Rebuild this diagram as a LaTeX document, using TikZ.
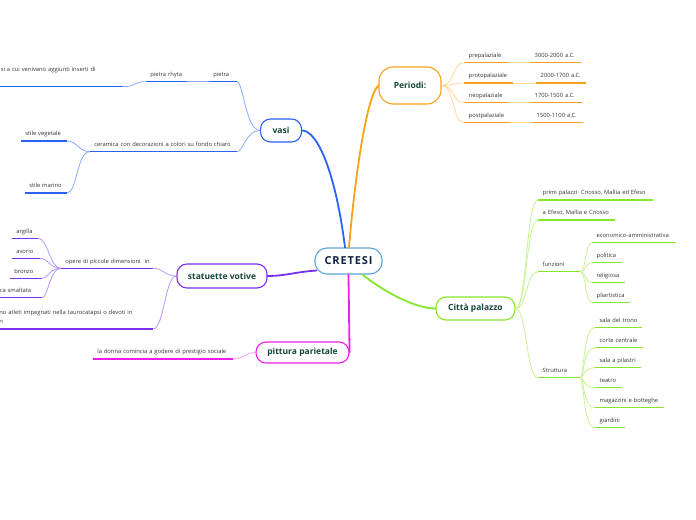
\documentclass[tikz,border=0pt]{standalone}
\usepackage{fontspec}
\setmainfont{Open Sans}
\definecolor{bluemain}{HTML}{2A62F2}
\definecolor{bluelight}{HTML}{8AAAFF}
\definecolor{orangemain}{HTML}{F9A11B}
\definecolor{orangelight}{HTML}{FFD89A}
\definecolor{purplemain}{HTML}{7B2FF2}
\definecolor{purplelight}{HTML}{B898FF}
\definecolor{magentamain}{HTML}{EE1FEE}
\definecolor{magentalight}{HTML}{F49CF4}
\definecolor{greenmain}{HTML}{86E62A}
\definecolor{greenlight}{HTML}{C6F294}
\definecolor{cretesiborder}{HTML}{5BA4DA}
\definecolor{cretesitext}{HTML}{102448}
\definecolor{topictext}{HTML}{16463A}
\definecolor{leaftext}{HTML}{333333}
\begin{document}
\begin{tikzpicture}[line join=bevel,
  topic/.style={draw,fill=white,rounded corners=10bp,line width=1.1bp,inner sep=0pt,text=topictext,font=\fontsize{8.5bp}{10bp}\selectfont\bfseries},
  leaf/.style={inner xsep=4.5bp,inner ysep=3.5bp,text height=4.2bp,text depth=1.4bp,align=left,text=leaftext,font=\fontsize{5.8bp}{9bp}\selectfont},
  main/.style={line width=1.8bp,line cap=round},
  twig/.style={line width=0.8bp},
  ul/.style={line width=1.5bp},
]
%%
\useasboundingbox (0bp,0bp) rectangle (696bp,520bp);
\clip (0bp,0bp) rectangle (696bp,520bp);
\node (node_cretesi) at (348.5bp,259bp) [topic,draw=cretesiborder,text=cretesitext,minimum width=67bp,minimum height=26bp,rounded corners=12bp,font=\fontsize{11bp}{12bp}\selectfont\bfseries\addfontfeature{LetterSpace=8}] {CRETESI};
\node (node_periodi) at (410bp,434.5bp) [topic,draw=orangemain,minimum width=62bp,minimum height=37bp,rounded corners=14bp] {Periodi:};
\node (node_vasi) at (281bp,389.5bp) [topic,draw=bluemain,minimum width=41bp,minimum height=23bp] {vasi};
\node (node_statuette) at (222bp,244bp) [topic,draw=purplemain,minimum width=90bp,minimum height=24bp] {statuette votive};
\node (node_pittura) at (302.5bp,167.5bp) [topic,draw=magentamain,minimum width=93bp,minimum height=21bp] {pittura parietale};
\node (node_citta) at (475.5bp,211.5bp) [topic,draw=greenmain,minimum width=79bp,minimum height=23bp] {Città palazzo};
%% periodi
\node (node_prepal) at (464bp,457.3bp) [leaf,anchor=south west,text width=35bp] {prepalaziale};
\node (node_prepal_d) at (530bp,457.3bp) [leaf,anchor=south west,text width=42bp] {\mbox{3000-2000 a.C.}};
\node (node_protopal) at (464bp,437bp) [leaf,anchor=south west,text width=40bp] {protopalaziale};
\node (node_protopal_d) at (536bp,437bp) [leaf,anchor=south west,text width=41bp] {\mbox{2000-1700 a.C.}};
\node (node_neopal) at (464bp,417.3bp) [leaf,anchor=south west,text width=35bp] {neopalaziale};
\node (node_neopal_d) at (530bp,417.3bp) [leaf,anchor=south west,text width=43bp] {\mbox{1700-1500 a.C.}};
\node (node_postpal) at (464bp,397.3bp) [leaf,anchor=south west,text width=37bp] {postpalaziale};
\node (node_postpal_d) at (532bp,397.3bp) [leaf,anchor=south west,text width=42bp] {\mbox{1500-1100 a.C.}};
%% vasi
\node (node_pietra) at (237bp,438.3bp) [leaf,anchor=south east,text width=19bp] {pietra};
\node (node_rhyta) at (187bp,438.3bp) [leaf,anchor=south east,text width=32bp] {\mbox{pietra rhyta}};
\node (node_inserti) at (123bp,433.3bp) [leaf,anchor=south east,text width=117.5bp,text depth=11.4bp] {\mbox{si a cui venivano aggiunti inserti di}};
\node (node_ceramica) at (237bp,368.3bp) [leaf,anchor=south east,text width=138bp] {\mbox{ceramica con decorazioni a colori su fondo chiaro}};
\node (node_vegetale) at (67bp,379bp) [leaf,anchor=south east,text width=37bp] {\mbox{stile vegetale}};
\node (node_marino) at (67bp,327bp) [leaf,anchor=south east,text width=33bp] {\mbox{stile marino}};
%% statuette
\node (node_opere) at (153bp,251.7bp) [leaf,anchor=south east,text width=83bp] {\mbox{opere di piccole dimensioni~ in}};
\node (node_atleti) at (153bp,191bp) [leaf,anchor=south east,text width=149bp,text depth=10.4bp] {\mbox{no atleti impegnati nella taurocatapsi o devoti in}\\n};
\node (node_argilla) at (38bp,281.7bp) [leaf,anchor=south east,text width=17bp] {argilla};
\node (node_avorio) at (40bp,261.7bp) [leaf,anchor=south east,text width=19bp] {avorio};
\node (node_bronzo) at (42bp,241.7bp) [leaf,anchor=south east,text width=23bp] {bronzo};
\node (node_smaltata) at (42bp,222.3bp) [leaf,anchor=south east,text width=37.5bp] {\mbox{ca smaltata}};
%% pittura
\node (node_donna) at (233bp,161bp) [leaf,anchor=south east,text width=131bp] {\mbox{la donna comincia a godere di prestigio sociale}};
%% citta
\node (node_primi) at (538bp,320bp) [leaf,anchor=south west,text width=106bp] {\mbox{primi palazzi~ Cnosso, Mallia ed Efeso}};
\node (node_efeso) at (538bp,300bp) [leaf,anchor=south west,text width=68bp] {\mbox{a Efeso, Mallia e Cnosso}};
\node (node_funzioni) at (538bp,248.3bp) [leaf,anchor=south west,text width=33bp] {funzioni};
\node (node_struttura) at (538bp,142.3bp) [leaf,anchor=south west,text width=33bp] {Struttura};
\node (node_econ) at (592bp,277.3bp) [leaf,anchor=south west,text width=75bp] {economico-amministrativa};
\node (node_politica) at (592bp,257.3bp) [leaf,anchor=south west,text width=21bp] {politica};
\node (node_religiosa) at (592bp,237.3bp) [leaf,anchor=south west,text width=24bp] {religiosa};
\node (node_pliart) at (592bp,217.3bp) [leaf,anchor=south west,text width=29bp] {pliartistica};
\node (node_trono) at (595bp,192.3bp) [leaf,anchor=south west,text width=38bp] {\mbox{sala del trono}};
\node (node_corte) at (595bp,172.3bp) [leaf,anchor=south west,text width=39bp] {\mbox{corte centrale}};
\node (node_pilastri) at (595bp,152.3bp) [leaf,anchor=south west,text width=37bp] {\mbox{sala a pilastri}};
\node (node_teatro) at (595bp,132.3bp) [leaf,anchor=south west,text width=18bp] {teatro};
\node (node_magazz) at (595bp,112.3bp) [leaf,anchor=south west,text width=60bp] {\mbox{magazzini e botteghe}};
\node (node_giardini) at (595bp,92.3bp) [leaf,anchor=south west,text width=21bp] {giardini};
%% main branches
\draw [main,bluemain] ([xshift=-3.5bp]node_cretesi.north) ..controls (336bp,345bp) and (318bp,389.5bp) .. (node_vasi.east);
\draw [main,orangemain] ([xshift=0.5bp]node_cretesi.north) ..controls (355bp,345bp) and (367bp,425bp) .. (node_periodi.west);
\draw [main,purplemain] ([xshift=2bp,yshift=4bp]node_cretesi.south west) ..controls (295bp,248bp) and (285bp,244bp) .. (node_statuette.east);
\draw [main,magentamain] (node_cretesi.south) -- (node_pittura.east);
\draw [main,greenmain] ([xshift=-20bp]node_cretesi.south east) ..controls (372bp,237bp) and (410bp,211.5bp) .. (node_citta.west);
%% periodi twigs
\draw [twig,orangelight] (node_periodi.east) ..controls (455bp,434.5bp) and (452bp,457.3bp) .. (node_prepal.south west);
\draw [twig,orangelight] (node_periodi.east) ..controls (455bp,434.5bp) and (452bp,437bp) .. (node_protopal.south west);
\draw [twig,orangelight] (node_periodi.east) ..controls (455bp,434.5bp) and (452bp,417.3bp) .. (node_neopal.south west);
\draw [twig,orangelight] (node_periodi.east) ..controls (455bp,434.5bp) and (452bp,397.3bp) .. (node_postpal.south west);
\draw [twig,orangelight] (node_prepal.south east) -- (node_prepal_d.south west);
\draw [twig,orangelight] (node_protopal.south east) -- (node_protopal_d.south west);
\draw [twig,orangelight] (node_neopal.south east) -- (node_neopal_d.south west);
\draw [twig,orangelight] (node_postpal.south east) -- (node_postpal_d.south west);
%% vasi twigs
\draw [twig,bluelight] (node_vasi.west) ..controls (246bp,389.5bp) and (243bp,438.3bp) .. (node_pietra.south east);
\draw [twig,bluelight] (node_vasi.west) ..controls (246bp,389.5bp) and (243bp,368.3bp) .. (node_ceramica.south east);
\draw [twig,bluelight] (node_pietra.south west) -- (node_rhyta.south east);
\draw [twig,bluelight] (node_rhyta.south west) ..controls (133bp,438.3bp) and (136bp,433.3bp) .. (node_inserti.south east);
\draw [twig,bluelight] (node_ceramica.south west) ..controls (79bp,368.3bp) and (77bp,379bp) .. (node_vegetale.south east);
\draw [twig,bluelight] (node_ceramica.south west) ..controls (77bp,368.3bp) and (77bp,327bp) .. (node_marino.south east);
%% statuette twigs
\draw [twig,purplelight] (node_statuette.west) ..controls (165bp,244bp) and (163bp,251.7bp) .. (node_opere.south east);
\draw [twig,purplelight] (node_statuette.west) ..controls (165bp,244bp) and (164bp,191bp) .. (node_atleti.south east);
\draw [twig,purplelight] (node_opere.south west) ..controls (50bp,251.7bp) and (48bp,281.7bp) .. (node_argilla.south east);
\draw [twig,purplelight] (node_opere.south west) ..controls (50bp,251.7bp) and (48bp,261.7bp) .. (node_avorio.south east);
\draw [twig,purplelight] (node_opere.south west) ..controls (50bp,251.7bp) and (48bp,241.7bp) .. (node_bronzo.south east);
\draw [twig,purplelight] (node_opere.south west) ..controls (50bp,251.7bp) and (48bp,222.3bp) .. (node_smaltata.south east);
%% pittura twig
\draw [twig,magentalight] (node_pittura.west) ..controls (245bp,167.5bp) and (244bp,161bp) .. (node_donna.south east);
%% citta twigs
\draw [twig,greenlight] (node_citta.east) ..controls (527bp,211.5bp) and (526bp,320bp) .. (node_primi.south west);
\draw [twig,greenlight] (node_citta.east) ..controls (527bp,211.5bp) and (526bp,300bp) .. (node_efeso.south west);
\draw [twig,greenlight] (node_citta.east) ..controls (527bp,211.5bp) and (526bp,248.3bp) .. (node_funzioni.south west);
\draw [twig,greenlight] (node_citta.east) ..controls (527bp,211.5bp) and (526bp,142.3bp) .. (node_struttura.south west);
\draw [twig,greenlight] (node_funzioni.south east) ..controls (586bp,248.3bp) and (585bp,277.3bp) .. (node_econ.south west);
\draw [twig,greenlight] (node_funzioni.south east) ..controls (586bp,248.3bp) and (585bp,257.3bp) .. (node_politica.south west);
\draw [twig,greenlight] (node_funzioni.south east) ..controls (586bp,248.3bp) and (585bp,237.3bp) .. (node_religiosa.south west);
\draw [twig,greenlight] (node_funzioni.south east) ..controls (586bp,248.3bp) and (585bp,217.3bp) .. (node_pliart.south west);
\draw [twig,greenlight] (node_struttura.south east) ..controls (584bp,142.3bp) and (583bp,192.3bp) .. (node_trono.south west);
\draw [twig,greenlight] (node_struttura.south east) ..controls (584bp,142.3bp) and (583bp,172.3bp) .. (node_corte.south west);
\draw [twig,greenlight] (node_struttura.south east) ..controls (584bp,142.3bp) and (583bp,152.3bp) .. (node_pilastri.south west);
\draw [twig,greenlight] (node_struttura.south east) ..controls (584bp,142.3bp) and (583bp,132.3bp) .. (node_teatro.south west);
\draw [twig,greenlight] (node_struttura.south east) ..controls (584bp,142.3bp) and (583bp,112.3bp) .. (node_magazz.south west);
\draw [twig,greenlight] (node_struttura.south east) ..controls (584bp,142.3bp) and (583bp,92.3bp) .. (node_giardini.south west);
%% underlines
\foreach \n in {prepal,prepal_d,protopal,protopal_d,neopal,neopal_d,postpal,postpal_d}
  \draw [ul,orangemain] (node_\n.south west) -- (node_\n.south east);
\foreach \n in {pietra,rhyta,inserti,ceramica,vegetale,marino}
  \draw [ul,bluemain] (node_\n.south west) -- (node_\n.south east);
\foreach \n in {opere,atleti,argilla,avorio,bronzo,smaltata}
  \draw [ul,purplemain] (node_\n.south west) -- (node_\n.south east);
\draw [ul,magentamain] (node_donna.south west) -- (node_donna.south east);
\foreach \n in {primi,efeso,funzioni,struttura,econ,politica,religiosa,pliart,trono,corte,pilastri,teatro,magazz,giardini}
  \draw [ul,greenmain] (node_\n.south west) -- (node_\n.south east);
%
\end{tikzpicture}
\end{document}
